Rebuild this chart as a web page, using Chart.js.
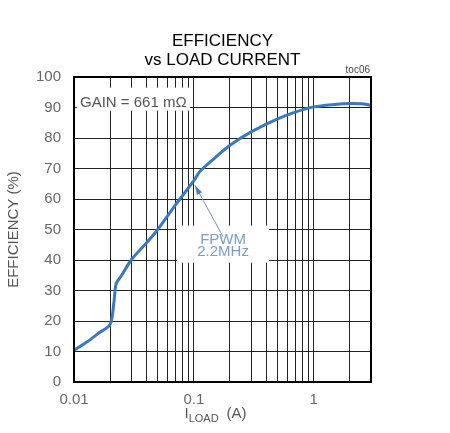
<!DOCTYPE html>
<html>
<head>
<meta charset="utf-8">
<script src="https://cdn.jsdelivr.net/npm/chart.js@4"></script>
<style>
    html, body { margin: 0; padding: 0; background: #fff; }
    #wrap { width: 450px; height: 433px; }
</style>
</head>
<body>
<div id="wrap"><canvas id="effChart" width="450" height="433"></canvas></div>
<script>
// load current (A) and efficiency (%)
const loadCurrent = [0.01, 0.013, 0.016, 0.02, 0.0215, 0.0225, 0.025, 0.03, 0.04, 0.05, 0.07, 0.1, 0.112, 0.15, 0.2, 0.3, 0.5, 0.7, 1, 1.5, 2, 2.5, 3];
const efficiency = [10.4, 13.3, 16, 18.9, 26, 32.3, 35, 40, 45.5, 50, 58, 66, 69, 73.5, 77.6, 82, 86.3, 88.5, 90.2, 91, 91.3, 91.2, 90.7];
const xTickLabels = [0.01, 0.1, 1];
const yTickLabels = [0, 10, 20, 30, 40, 50, 60, 70, 80, 90, 100];

const FONT = '"Liberation Sans", Arial, sans-serif';

const textPlugin = {
    id: 'textPlugin',
    afterDatasetsDraw(chart) {
        const c = chart.ctx;
        const a = chart.chartArea;
        const xs = chart.scales.x, ys = chart.scales.y;
        c.save();

        // GAIN label box
        c.fillStyle = '#fff';
        c.fillRect(a.left + 3, ys.getPixelForValue(96.5), 113, 23);
        c.fillStyle = '#555';
        c.font = '15px ' + FONT;
        c.textAlign = 'left';
        c.textBaseline = 'middle';
        c.fillText('GAIN = 661 mΩ', a.left + 6, ys.getPixelForValue(91.5));

        // FPWM label + arrow
        const bx = xs.getPixelForValue(0.175);
        const by = ys.getPixelForValue(47);
        c.fillStyle = '#fff';
        c.fillRect(bx - 46, by - 13, 92, 37);
        c.strokeStyle = '#6a8fc8';
        c.lineWidth = 1;
        const tipX = xs.getPixelForValue(0.102), tipY = ys.getPixelForValue(64.5);
        const fromX = bx, fromY = by - 2;
        c.beginPath();
        c.moveTo(fromX, fromY);
        c.lineTo(tipX, tipY);
        c.stroke();
        const ang = Math.atan2(tipY - fromY, tipX - fromX);
        c.fillStyle = '#4d7cc0';
        c.beginPath();
        c.moveTo(tipX, tipY);
        c.lineTo(tipX - 10 * Math.cos(ang - 0.3), tipY - 10 * Math.sin(ang - 0.3));
        c.lineTo(tipX - 10 * Math.cos(ang + 0.3), tipY - 10 * Math.sin(ang + 0.3));
        c.closePath();
        c.fill();
        c.fillStyle = '#7a9bd0';
        c.font = '15px ' + FONT;
        c.textAlign = 'center';
        c.fillText('FPWM', bx, by + 1);
        c.fillText('2.2MHz', bx, by + 13);

        // title
        const cx = (a.left + a.right) / 2;
        c.fillStyle = '#000';
        c.font = '17px ' + FONT;
        c.fillText('EFFICIENCY', cx, 41);
        c.fillText('vs LOAD CURRENT', cx, 60);

        c.fillStyle = '#444';
        c.font = '10px ' + FONT;
        c.textAlign = 'right';
        c.fillText('toc06', a.right - 1, 70);

        // axis titles
        c.fillStyle = '#555';
        c.font = '15px ' + FONT;
        c.save();
        c.translate(14, (a.top + a.bottom) / 2);
        c.rotate(-Math.PI / 2);
        c.textAlign = 'center';
        c.fillText('EFFICIENCY (%)', 0, 0);
        c.restore();

        c.textAlign = 'left';
        let tx = cx - 38;
        c.fillText('I', tx, 414);
        tx += c.measureText('I').width;
        c.font = '11px ' + FONT;
        c.fillText('LOAD', tx, 419);
        tx += c.measureText('LOAD').width + 8;
        c.font = '15px ' + FONT;
        c.fillText('(A)', tx, 414);

        // frame
        c.strokeStyle = '#000';
        c.lineWidth = 2;
        c.strokeRect(a.left, a.top, a.right - a.left, a.bottom - a.top);
        c.restore();
    }
};

new Chart(document.getElementById('effChart'), {
    type: 'line',
    data: {
        datasets: [{
            data: loadCurrent.map((x, i) => ({ x: x, y: efficiency[i] })),
            borderColor: '#3a78c0',
            borderWidth: 3,
            pointRadius: 0,
            tension: 0.3,
            fill: false
        }]
    },
    options: {
        responsive: false,
        animation: false,
        layout: { padding: { top: 77, right: 79, left: 0, bottom: 0 } },
        plugins: { legend: { display: false }, tooltip: { enabled: false } },
        scales: {
            x: {
                type: 'logarithmic',
                min: 0.01,
                max: 3,
                afterBuildTicks(scale) {
                    const t = [];
                    xTickLabels.forEach(d => {
                        for (let k = 1; k <= 9; k++) {
                            const v = +(d * k).toPrecision(3);
                            if (v <= 3) t.push({ value: v });
                        }
                    });
                    scale.ticks = t;
                },
                afterFit(scale) { scale.height = 51; },
                grid: { color: '#222', lineWidth: 1, drawTicks: false },
                border: { display: false },
                ticks: {
                    autoSkip: false,
                    maxRotation: 0,
                    padding: 9,
                    color: '#666',
                    font: { family: FONT, size: 15 },
                    callback: v => xTickLabels.includes(v) ? String(v) : ''
                }
            },
            y: {
                min: 0,
                max: 100,
                afterBuildTicks(scale) { scale.ticks = yTickLabels.map(v => ({ value: v })); },
                afterFit(scale) { scale.width = 74; },
                grid: { color: '#222', lineWidth: 1, drawTicks: false },
                border: { display: false },
                ticks: {
                    padding: 13,
                    color: '#666',
                    font: { family: FONT, size: 15 }
                }
            }
        }
    },
    plugins: [textPlugin]
});
</script>
</body>
</html>
